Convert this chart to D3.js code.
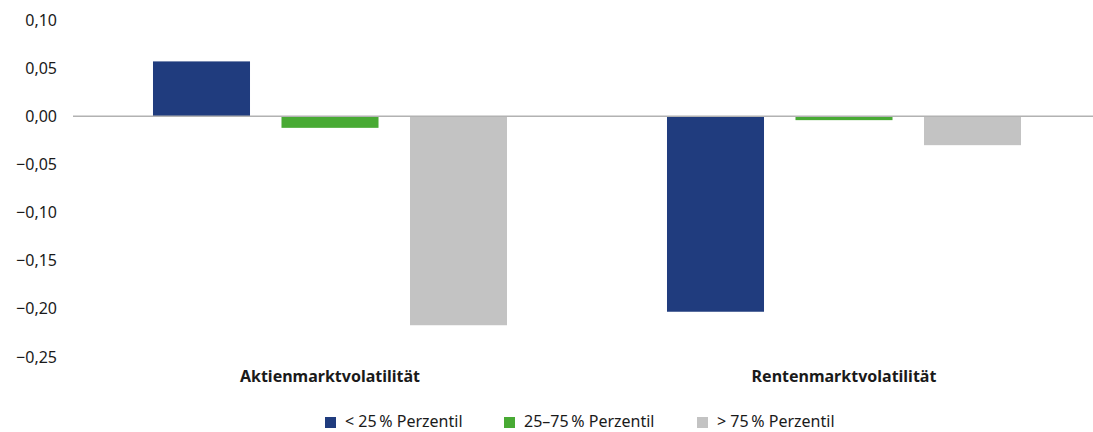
<!DOCTYPE html>
<html>
<head>
<meta charset="utf-8">
<script src="https://cdn.jsdelivr.net/npm/d3@7"></script>
<style>
  body { margin: 0; background: #fff; }
  svg text { font-family: "Noto Sans", "Open Sans", sans-serif; fill: #1a1a1a; }
</style>
</head>
<body>
<div id="chart"></div>
<script>
// categories and series
const categories = ["Aktienmarktvolatilität", "Rentenmarktvolatilität"];
const seriesNames = ["< 25\u202F% Perzentil", "25–75\u202F% Perzentil", "> 75\u202F% Perzentil"];
const seriesColors = ["#203c7e", "#48aa34", "#c3c3c3"];
const lowValues = [0.057, -0.203];
const midValues = [-0.012, -0.004];
const highValues = [-0.217, -0.030];
const yTicks = [0.10, 0.05, 0.00, -0.05, -0.10, -0.15, -0.20, -0.25];

const series = [lowValues, midValues, highValues];

const W = 1093, H = 432;
const margin = {top: 20, right: -8, bottom: 75, left: 73};

const svg = d3.select("#chart").append("svg")
  .attr("width", W).attr("height", H);

const x0 = d3.scaleBand()
  .domain(categories)
  .range([margin.left, W - margin.right])
  .paddingInner(0).paddingOuter(0);

const x1 = d3.scaleBand()
  .domain(d3.range(series.length))
  .range([0, x0.bandwidth()])
  .paddingInner(0.245)
  .paddingOuter(0.6225);

const y = d3.scaleLinear()
  .domain([-0.25, 0.10])
  .range([H - margin.bottom, margin.top]);

const fmt = v => d3.format(".2f")(Math.abs(v)).replace(".", ",");
const tickLabel = v => (v < -1e-9 ? "\u2212" : "") + fmt(v);

// y axis labels (no line, no ticks)
svg.append("g")
  .selectAll("text")
  .data(yTicks)
  .enter().append("text")
  .attr("x", 57)
  .attr("y", d => y(d))
  .attr("dy", "0.35em")
  .attr("text-anchor", "end")
  .style("font-size", "16px")
  .text(tickLabel);

// bars
const groups = svg.append("g")
  .selectAll("g")
  .data(categories)
  .enter().append("g")
  .attr("transform", d => "translate(" + x0(d) + ",0)");

groups.selectAll("rect")
  .data((c, ci) => series.map((s, si) => ({si: si, v: s[ci]})))
  .enter().append("rect")
  .attr("x", d => x1(d.si))
  .attr("width", x1.bandwidth())
  .attr("y", d => y(Math.max(0, d.v)))
  .attr("height", d => Math.abs(y(d.v) - y(0)))
  .style("fill", d => seriesColors[d.si]);

// zero line
svg.append("line")
  .attr("x1", margin.left).attr("x2", W)
  .attr("y1", y(0)).attr("y2", y(0))
  .style("stroke", "#b2b2b2")
  .style("stroke-width", 1.6);

// category labels
svg.append("g")
  .selectAll("text")
  .data(categories)
  .enter().append("text")
  .attr("x", d => x0(d) + x0.bandwidth() / 2)
  .attr("y", 382)
  .attr("text-anchor", "middle")
  .style("font-size", "16px")
  .style("font-weight", "bold")
  .text(d => d);

// legend
const legendX = [325, 504, 697];
const legend = svg.append("g")
  .selectAll("g")
  .data(seriesNames)
  .enter().append("g")
  .attr("transform", (d, i) => "translate(" + legendX[i] + ",421)");

legend.append("rect")
  .attr("x", 0).attr("y", -4)
  .attr("width", 11).attr("height", 11)
  .style("fill", (d, i) => seriesColors[i]);

legend.append("text")
  .attr("x", 20)
  .attr("y", 0)
  .attr("dy", "0.35em")
  .style("font-size", "16px")
  .text(d => d);
</script>
</body>
</html>
